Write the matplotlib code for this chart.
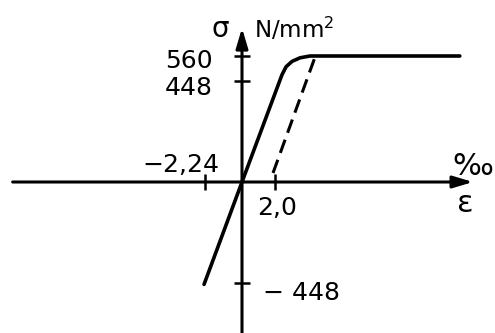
import matplotlib.pyplot as plt

# strain in per mille, stress in N/mm2
strain_solid = [-2.3, 0.0, 2.42, 2.67, 3.03, 3.52, 4.12, 13.2]
stress_solid = [-455, 0, 476, 512, 536, 552, 560, 560]
strain_dashed = [1.88, 4.45]
stress_dashed = [40, 560]

x_ticks = [-2.24, 2.0]
x_tick_labels = ["\u22122,24", "2,0"]
y_ticks = [560, 448, -448]
y_tick_labels = ["560", "448", "\u2212 448"]

W, H, DPI = 495, 333, 100
PX = 72 / DPI  # points per pixel


def main():
    fig = plt.figure(figsize=(W / DPI, H / DPI), dpi=DPI)
    ax = fig.add_axes([0, 0, 1, 1])
    ax.set_xlim(-242 / 16.5, 253 / 16.5)
    ax.set_ylim(-151 / 0.225, 182 / 0.225)

    # axes with arrow heads
    arrow = dict(arrowstyle="-|>,head_length=0.6,head_width=0.18", lw=2.2,
                 color="black", mutation_scale=20, shrinkA=0, shrinkB=0)
    ax.annotate("", xy=(14.0, 0), xytext=(-13.9, 0), arrowprops=arrow)
    ax.annotate("", xy=(0, 684), xytext=(0, -700), arrowprops=arrow)

    for s in ax.spines.values():
        s.set_visible(False)
    ax.spines["left"].set_position(("data", 0))
    ax.spines["bottom"].set_position(("data", 0))
    ax.set_xticks(x_ticks)
    ax.set_yticks(y_ticks)
    ax.set_xticklabels([])
    ax.set_yticklabels([])
    ax.tick_params(direction="inout", length=11, width=1.8, color="black")

    ax.plot(strain_solid, stress_solid, color="black", lw=2.6,
            solid_capstyle="round", solid_joinstyle="round")
    ax.plot(strain_dashed, stress_dashed, color="black", lw=2.2,
            linestyle=(0, (4.6, 2.4)))

    fs = 18
    # x tick labels
    offs_x = [(14, 10, "right"), (2, -33, "center")]
    for t, lab, (dx, dy, ha) in zip(x_ticks, x_tick_labels, offs_x):
        ax.annotate(lab, xy=(t, 0), xytext=(dx * PX, dy * PX),
                    textcoords="offset points", ha=ha, va="baseline", fontsize=fs)
    # y tick labels
    offs_y = [(-29, -12, "right"), (-29, -14, "right"), (21, -17, "left")]
    for t, lab, (dx, dy, ha) in zip(y_ticks, y_tick_labels, offs_y):
        ax.annotate(lab, xy=(0, t), xytext=(dx * PX, dy * PX),
                    textcoords="offset points", ha=ha, va="baseline", fontsize=fs)

    # axis names and units
    fig.text(220 / W, 1 - 37 / H, "\u03c3", ha="center", va="baseline", fontsize=20)
    fig.text(254 / W, 1 - 38 / H, "N/mm$^2$", ha="left", va="baseline", fontsize=16.5)
    fig.text(473 / W, 1 - 175 / H, "\u2030", ha="center", va="baseline", fontsize=22)
    fig.text(465 / W, 1 - 212 / H, "\u03b5", ha="center", va="baseline", fontsize=22)

    fig.savefig("out.png", dpi=DPI)


if __name__ == "__main__":
    main()
